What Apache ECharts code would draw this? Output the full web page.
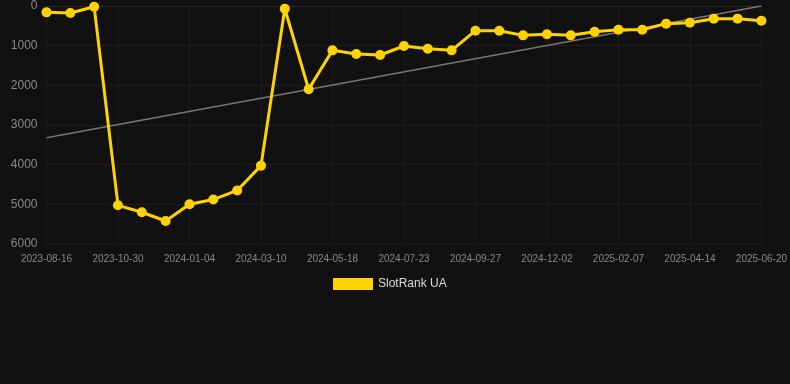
<!DOCTYPE html>
<html>
<head>
<meta charset="utf-8">
<script src="https://cdn.jsdelivr.net/npm/echarts@6/dist/echarts.min.js"></script>
<style>
  html, body { margin: 0; padding: 0; background: #111111; }
  #chart { width: 790px; height: 384px; }
</style>
</head>
<body>
<div id="chart"></div>
<script>
// dates on the category axis (every 3rd one is labelled)
const dates = [
  '2023-08-16', '2023-09-10', '2023-10-05',
  '2023-10-30', '2023-11-21', '2023-12-13',
  '2024-01-04', '2024-01-26', '2024-02-17',
  '2024-03-10', '2024-04-02', '2024-04-25',
  '2024-05-18', '2024-06-09', '2024-07-01',
  '2024-07-23', '2024-08-14', '2024-09-05',
  '2024-09-27', '2024-10-19', '2024-11-10',
  '2024-12-02', '2024-12-24', '2025-01-16',
  '2025-02-07', '2025-03-01', '2025-03-23',
  '2025-04-14', '2025-05-06', '2025-05-28',
  '2025-06-20'
];

// rank values
const rankUA = [
  160, 176, 20,
  5025, 5200, 5420,
  5000, 4880, 4650,
  4025, 70, 2100,
  1118, 1210, 1235,
  1008, 1076, 1118,
  622, 622, 740,
  714, 740, 647,
  597, 597, 445,
  420, 319, 319,
  370
];

// trend line end points
const trendStart = 3320;
const trendEnd = 0;

const trendData = dates.map((d, i) => {
  if (i === 0) return trendStart;
  if (i === dates.length - 1) return trendEnd;
  return null;
});

const chart = echarts.init(document.getElementById('chart'));

chart.setOption({
  backgroundColor: '#111111',
  animation: false,
  grid: {
    left: 46.5,
    right: 28,
    top: 6,
    bottom: 140
  },
  legend: {
    top: 273,
    left: 328,
    itemWidth: 40,
    itemHeight: 12,
    data: [{ name: 'SlotRank UA', icon: 'rect' }],
    textStyle: { color: '#dddddd', fontSize: 12, fontFamily: 'Liberation Sans, Arial, sans-serif' }
  },
  xAxis: {
    type: 'category',
    data: dates,
    boundaryGap: false,
    axisLine: { show: true, lineStyle: { color: '#2a2a2a' } },
    axisTick: { show: false },
    axisLabel: {
      interval: 2,
      color: '#888888',
      fontSize: 10,
      margin: 10,
      fontFamily: 'Liberation Sans, Arial, sans-serif'
    },
    splitLine: {
      show: true,
      interval: 2,
      lineStyle: { color: '#1c1c1c', width: 1 }
    }
  },
  yAxis: {
    type: 'value',
    inverse: true,
    min: 0,
    max: 6000,
    interval: 1000,
    axisLine: { show: false },
    axisTick: { show: false },
    axisLabel: {
      color: '#888888',
      fontSize: 12,
      margin: 9,
      formatter: v => String(v),
      fontFamily: 'Liberation Sans, Arial, sans-serif'
    },
    splitLine: { lineStyle: { color: '#1e1e1e', width: 1 } }
  },
  series: [
    {
      name: 'trend',
      type: 'line',
      data: trendData,
      connectNulls: true,
      showSymbol: false,
      symbol: 'none',
      silent: true,
      lineStyle: { color: '#777777', width: 1.5 },
      z: 1
    },
    {
      name: 'SlotRank UA',
      type: 'line',
      data: rankUA,
      symbol: 'circle',
      symbolSize: 10,
      showAllSymbol: true,
      itemStyle: { color: '#ffd200' },
      lineStyle: { color: '#ffd200', width: 3 },
      z: 3
    }
  ]
});
</script>
</body>
</html>
